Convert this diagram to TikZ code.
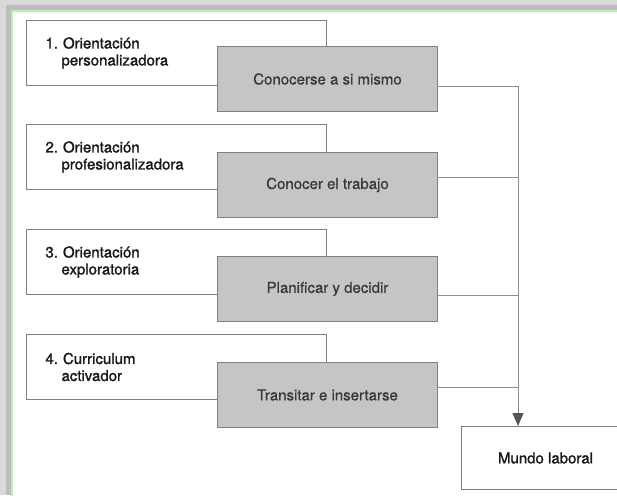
\documentclass[tikz,border=0pt]{standalone}
\usepackage{fontspec}
\setmainfont{TeX Gyre Heros}
\newfontfamily\heavyfont[FakeBold=1.4]{TeX Gyre Heros}
\newfontfamily\midfont[FakeBold=0.6]{TeX Gyre Heros}
\usetikzlibrary{arrows.meta}
\definecolor{boxgray}{HTML}{C5C5C5}
\definecolor{edgegray}{HTML}{808080}
\definecolor{linegray}{HTML}{8C8C8C}
\definecolor{framegreen}{HTML}{BDF0B5}
\definecolor{shadowlight}{HTML}{D9D9D9}
\definecolor{shadowdark}{HTML}{BDBDBD}
\definecolor{tipgray}{HTML}{555555}
\newcommand{\hang}{\hspace*{16pt}}
\begin{document}
\begin{tikzpicture}[x=1pt,y=-1pt,
  whitebox/.style={draw=edgegray, line width=1pt, fill=white,
    minimum width=300pt, minimum height=65pt, anchor=north west,
    inner xsep=19pt, inner ysep=0pt, text width=262pt, align=left,
    font=\heavyfont\fontsize{15}{17}\selectfont, text=black!90},
  graybox/.style={draw=edgegray, line width=1pt, fill=boxgray,
    minimum width=220pt, minimum height=65pt, anchor=north west,
    inner sep=0pt, font=\midfont\fontsize{15}{17}\selectfont, text=black!78},
  mundobox/.style={draw=edgegray, line width=1pt, fill=white,
    minimum width=168pt, minimum height=63pt, anchor=north west,
    inner sep=0pt, font=\heavyfont\fontsize{15}{17}\selectfont, text=black!90},
  conn/.style={draw=linegray, line width=1pt},
  arrowconn/.style={conn, -{Triangle[width=11pt,length=13pt,color=tipgray]}},
]
\useasboundingbox (0,0) rectangle (617,495);
\clip (0,0) rectangle (617,495);
% frame with shadow
\fill[shadowlight] (0,0) rectangle (617,495);
\fill[shadowdark] (6,5) rectangle (617,495);
\draw[framegreen, line width=1.3pt, fill=white] (12,11) rectangle (640,520);

% left boxes
\node[whitebox] (w1) at (26,20) {1.~Orientación\\\hang personalizadora};
\node[whitebox] (w2) at (26,124) {2.~Orientación\\\hang profesionalizadora};
\node[whitebox] (w3) at (26,229) {3.~Orientación\\\hang exploratoria};
\node[whitebox] (w4) at (26,334) {4.~Curriculum\\\hang activador};

% gray boxes
\node[graybox] (g1) at (217,46) {Conocerse a si mismo};
\node[graybox] (g2) at (217,152) {Conocer el trabajo};
\node[graybox] (g3) at (217,256) {Planificar y decidir};
\node[graybox] (g4) at (217,362) {Transitar e insertarse};

% target
\node[mundobox] (m) at (461,426) {Mundo laboral};

% spine
\coordinate (s1) at (518,86);
\coordinate (s2) at (518,177);
\coordinate (s3) at (518,295);
\coordinate (s4) at (518,387);

\draw[conn] (g1.east |- s1) -- (s1);
\draw[conn] (g2.east |- s2) -- (s2);
\draw[conn] (g3.east |- s3) -- (s3);
\draw[conn] (g4.east |- s4) -- (s4);
\draw[arrowconn] (s1) -- (s1 |- m.north);
\end{tikzpicture}
\end{document}
